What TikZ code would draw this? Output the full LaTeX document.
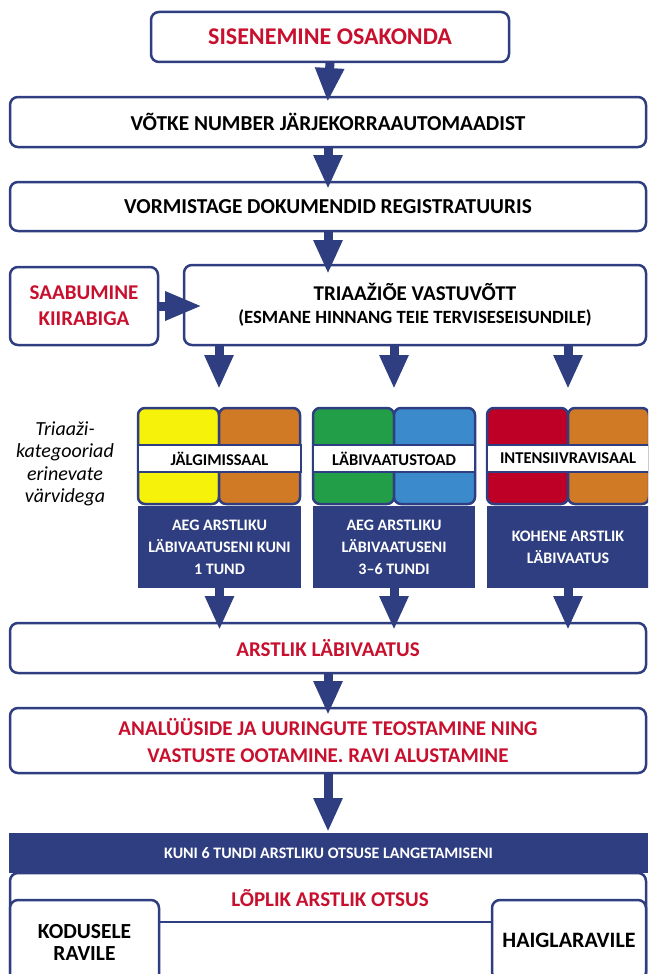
\documentclass[tikz,border=0pt]{standalone}
\usepackage{fontspec}
\setmainfont{Carlito}
\usetikzlibrary{arrows.meta}
\definecolor{navy}{RGB}{47,62,128}
\definecolor{redtxt}{RGB}{200,16,46}
\definecolor{cyellow}{RGB}{246,242,10}
\definecolor{corange}{RGB}{208,122,38}
\definecolor{cgreen}{RGB}{35,158,72}
\definecolor{cblue}{RGB}{58,138,204}
\definecolor{cred}{RGB}{190,0,38}
\begin{document}
\begin{tikzpicture}[x=1pt,y=-1pt,
  box/.style={draw=navy, line width=2.5pt, rounded corners=8pt, fill=white, inner sep=0pt, outer sep=0pt, anchor=north west, align=center},
  cell/.style={draw=navy, line width=2.5pt, rounded corners=7pt, inner sep=0pt, outer sep=0pt, anchor=north west, minimum width=81pt, minimum height=96pt},
  band/.style={draw=navy, line width=2pt, fill=white, inner sep=0pt, outer sep=0pt, anchor=north west, minimum width=163pt, minimum height=27pt, font=\bfseries\fontsize{16.5}{18}\selectfont},
  navybox/.style={fill=navy, text=white, inner sep=0pt, outer sep=0pt, anchor=north west, align=center, font=\bfseries\fontsize{16}{22}\selectfont},
  bigarrow/.style={draw=navy, line width=9pt, -{Triangle[width=27pt,length=34pt]}},
  f24/.style={font=\bfseries\fontsize{24}{28}\selectfont},
  f21/.style={font=\bfseries\fontsize{21}{26}\selectfont},
  f20/.style={font=\bfseries\fontsize{21.3}{22}\selectfont},
]
\useasboundingbox (0,0) rectangle (648,974);
\clip (0,0) rectangle (648,974);

% top boxes
\node[box, f24, text=redtxt, minimum width=358pt, minimum height=50pt] (n1) at (151,12) {SISENEMINE OSAKONDA};
\node[box, f20, minimum width=636pt, minimum height=50pt] (n2) at (10,97) {VÕTKE NUMBER JÄRJEKORRAAUTOMAADIST};
\node[box, f20, minimum width=636pt, minimum height=49pt] (n3) at (10,182) {VORMISTAGE DOKUMENDID REGISTRATUURIS};
\node[box, f21, text=redtxt, minimum width=148pt, minimum height=78pt] (saab) at (10,267) {SAABUMINE\\KIIRABIGA};
\node[box, font=\bfseries\fontsize{18.7}{23}\selectfont, minimum width=462pt, minimum height=80pt] (tri) at (184,265)
  {{\fontsize{21}{23}\selectfont TRIAAŽIÕE VASTUVÕTT}\\(ESMANE HINNANG TEIE TERVISESEISUNDILE)};

\draw[bigarrow, shorten >=-5pt] (n1.south) -- (n2.north);
\draw[bigarrow, shorten >=-7pt] (n2.south) -- (n3.north);
\draw[bigarrow, shorten >=-9pt] (n3.south) -- (n3.south |- tri.north);
\draw[bigarrow, -{Triangle[width=27pt,length=37pt]}, shorten >=-18pt] (saab.east) -- (saab.east -| tri.west);

% left italic label
\node[align=center, font=\itshape\fontsize{20}{22.5}\selectfont] (lbl) at (65,464) {Triaaži-\\kategooriad\\erinevate\\värvidega};

% group 1
\node[cell, fill=cyellow] (g1a) at (138,408) {};
\node[cell, fill=corange] (g1b) at (219,408) {};
\node[band] (g1l) at (138,445) {JÄLGIMISSAAL};
\node[navybox, minimum width=163pt, minimum height=82pt] (b1) at (138,506) {AEG ARSTLIKU\\LÄBIVAATUSENI KUNI\\1 TUND};
% group 2
\node[cell, fill=cgreen] (g2a) at (313,408) {};
\node[cell, fill=cblue] (g2b) at (394,408) {};
\node[band, minimum width=162pt] (g2l) at (313,445) {LÄBIVAATUSTOAD};
\node[navybox, minimum width=162pt, minimum height=82pt] (b2) at (313,506) {AEG ARSTLIKU\\LÄBIVAATUSENI\\3–6 TUNDI};
% group 3
\node[cell, fill=cred] (g3a) at (487,408) {};
\node[cell, fill=corange] (g3b) at (568,408) {};
\node[band, minimum width=162pt] (g3l) at (487,445) {INTENSIIVRAVISAAL};
\node[navybox, minimum width=162pt, minimum height=82pt] (b3) at (487,506) {KOHENE ARSTLIK\\LÄBIVAATUS};

\draw[bigarrow, shorten >=19pt] (g1a.north east |- tri.south) -- (g1a.north east);
\draw[bigarrow, shorten >=19pt] (g2a.north east |- tri.south) -- (g2a.north east);
\draw[bigarrow, shorten >=19pt] (g3a.north east |- tri.south) -- (g3a.north east);

% lower boxes
\node[box, f21, text=redtxt, minimum width=636pt, minimum height=50pt] (arst) at (10,623) {ARSTLIK LÄBIVAATUS};
\node[box, font=\bfseries\fontsize{21}{27}\selectfont, text=redtxt, minimum width=636pt, minimum height=65pt] (anal) at (10,708) {ANALÜÜSIDE JA UURINGUTE TEOSTAMINE NING\\VASTUSTE OOTAMINE. RAVI ALUSTAMINE};

\draw[bigarrow, shorten >=-7pt] (b1.south) -- (b1.south |- arst.north);
\draw[bigarrow, shorten >=-7pt] (b2.south) -- (b2.south |- arst.north);
\draw[bigarrow, shorten >=-7pt] (b3.south) -- (b3.south |- arst.north);
\draw[bigarrow, shorten >=-7pt] (arst.south) -- (anal.north);

\node[navybox, font=\bfseries\fontsize{16}{18}\selectfont, minimum width=639pt, minimum height=40pt] (kuni) at (9,833) {KUNI 6 TUNDI ARSTLIKU OTSUSE LANGETAMISENI};
\draw[bigarrow, shorten >=1pt] (anal.south) -- (kuni.north -| anal.south);

\node[box, minimum width=636pt, minimum height=130pt] (lop) at (10,873) {};
\node[f21, text=redtxt, inner sep=0pt] (loptxt) at (330,898) {LÕPLIK ARSTLIK OTSUS};
\node[box, font=\bfseries\fontsize{21.5}{22}\selectfont, minimum width=149pt, minimum height=84pt] (kod) at (10,900) {KODUSELE\\RAVILE};
\node[box, font=\bfseries\fontsize{22}{22}\selectfont, minimum width=154pt, minimum height=80pt] (hai) at (492,900) {HAIGLARAVILE};
\draw[navy, line width=2.5pt] ([yshift=-22pt]kod.north east) -- ([yshift=-22pt]hai.north west);
\end{tikzpicture}
\end{document}
